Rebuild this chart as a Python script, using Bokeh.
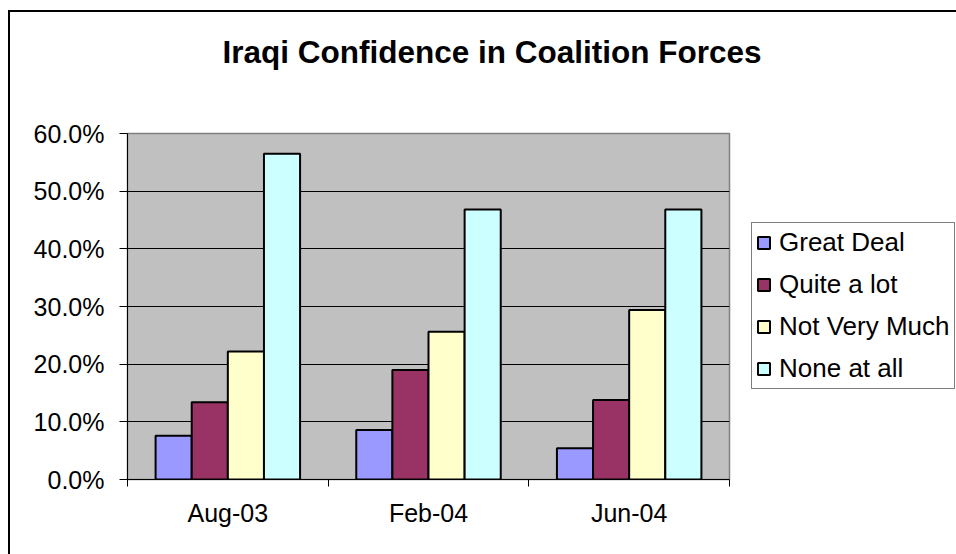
from bokeh.plotting import figure
from bokeh.models import (Range1d, FixedTicker, NumeralTickFormatter, Legend, LegendItem,
                          ColumnDataSource, LinearAxis)
from bokeh.embed import file_html
from bokeh.resources import INLINE

categories = ["Aug-03", "Feb-04", "Jun-04"]
series_names = ["Great Deal", "Quite a lot", "Not Very Much", "None at all"]
great_deal = [0.076, 0.086, 0.054]
quite_a_lot = [0.134, 0.190, 0.138]
not_very_much = [0.222, 0.256, 0.294]
none_at_all = [0.565, 0.468, 0.468]
y_ticks = [0.0, 0.1, 0.2, 0.3, 0.4, 0.5, 0.6]
colors = ["#9999FF", "#993366", "#FFFFCC", "#CCFFFF"]

FONT = "Liberation Sans"

p = figure(frame_width=602, frame_height=346,
           min_border_left=127, min_border_right=227, min_border_top=133, min_border_bottom=75,
           x_range=Range1d(0, len(categories)), y_range=Range1d(0, 0.6),
           output_backend="svg", toolbar_location=None)
p.styles = {"background": "linear-gradient(#000,#000) 8px 10px / 2px 100% no-repeat, "
                          "linear-gradient(#000,#000) 8px 10px / 100% 2px no-repeat"}
p.border_fill_alpha = 0
p.background_fill_color = "#C0C0C0"
p.outline_line_color = "#808080"
p.outline_line_width = 1.5

xa = p.below[0]
ya = p.left[0]

# invisible spacer between the plot area and the title
spacer = LinearAxis(ticker=FixedTicker(ticks=[0]), major_label_overrides={0: ""},
                    major_tick_out=62, major_tick_in=0,
                    minor_tick_out=0, minor_tick_in=0, major_label_standoff=0,
                    major_label_text_font_size="1px",
                    axis_line_alpha=0, major_tick_line_alpha=0, minor_tick_line_alpha=0)
p.add_layout(spacer, "above")

p.title.text = "Iraqi Confidence in Coalition Forces"
p.title.text_font = FONT
p.title.text_font_size = "31.5px"
p.title.text_font_style = "bold"
p.title.text_color = "black"
p.title.align = "left"
p.title.vertical_align = "top"
p.title.offset = 95
p.title.standoff = 0

bar_w = 0.18
offsets = [-1.5 * bar_w, -0.5 * bar_w, 0.5 * bar_w, 1.5 * bar_w]
centers = [i + 0.5 for i in range(len(categories))]
items = []
for name, vals, col, off in zip(series_names, [great_deal, quite_a_lot, not_very_much, none_at_all], colors, offsets):
    src = ColumnDataSource(dict(x=[c + off for c in centers], top=vals))
    r = p.vbar(x="x", top="top", bottom=0, width=bar_w, source=src,
               fill_color=col, line_color="black", line_width=2)
    items.append(LegendItem(label=name, renderers=[r]))

p.xgrid.visible = False
p.ygrid.grid_line_color = "black"
p.ygrid.grid_line_width = 1

ya.ticker = FixedTicker(ticks=y_ticks)
ya.formatter = NumeralTickFormatter(format="0.0%")
ya.major_tick_out = 8
ya.major_tick_in = 0
ya.minor_tick_out = 0
ya.axis_line_color = "black"
ya.major_tick_line_color = "black"
ya.major_label_text_font = FONT
ya.major_label_text_font_size = "25px"
ya.major_label_text_color = "black"
ya.major_label_standoff = 15

xa.ticker = FixedTicker(ticks=centers, minor_ticks=list(range(len(categories) + 1)))
xa.major_label_overrides = {c: lab for c, lab in zip(centers, categories)}
xa.major_tick_out = 0
xa.major_tick_in = 0
xa.minor_tick_out = 7
xa.minor_tick_in = 0
xa.minor_tick_line_color = "black"
xa.axis_line_color = "black"
xa.major_label_text_font = FONT
xa.major_label_text_font_size = "25px"
xa.major_label_text_color = "black"
xa.major_label_standoff = 12

legend = Legend(items=items, location=(22, 90))
legend.label_text_font = FONT
legend.label_text_font_size = "26px"
legend.label_text_color = "black"
legend.glyph_width = 15
legend.glyph_height = 15
legend.label_standoff = 8
legend.padding = 4
legend.spacing = 11
legend.margin = 0
legend.border_line_color = "black"
legend.border_line_width = 1
legend.background_fill_color = "white"
legend.background_fill_alpha = 1
p.add_layout(legend, "right")

open("out.html", "w").write(file_html(p, INLINE))
